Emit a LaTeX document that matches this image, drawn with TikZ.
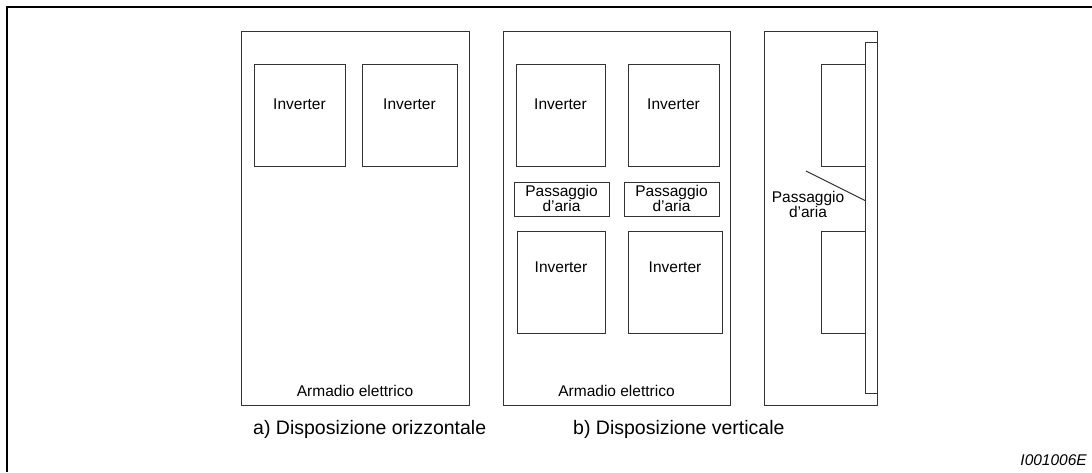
\documentclass[tikz,border=0pt]{standalone}
\usepackage{fontspec}
\setmainfont{Liberation Sans}
\newcommand{\squote}{{\char39}}
\begin{document}
\begin{tikzpicture}[x=1pt,y=-1pt,
  frameline/.style={line width=2.2pt,black},
  part/.style={line width=0.9pt,black!80},
  lbl/.style={inner sep=0pt,font=\fontsize{15.5}{15.5}\selectfont},
  twoline/.style={lbl,align=center},
  caption/.style={inner sep=0pt,font=\fontsize{19.5}{20}\selectfont}]
\useasboundingbox (0,0) rectangle (1092,472);
% outer frame (top and left edges)
\draw[frameline] (7,472) -- (7,7) -- (1092,7);

% ---- a) horizontal arrangement
\draw[part] (241,31) rectangle (469,405);
\draw[part] (254,64) rectangle (345,166);
\draw[part] (362,64) rectangle (457,166);
\node[lbl,anchor=base] (a1) at (299.5,109.5) {Inverter};
\node[lbl,anchor=base] (a2) at (409.5,109.5) {Inverter};
\node[lbl,anchor=base] (acab) at (355,396) {Armadio elettrico};
\node[caption,anchor=base west] (capa) at (253,434) {a) Disposizione orizzontale};

% ---- b) vertical arrangement, front view
\draw[part] (503,31) rectangle (730,405);
\draw[part] (516,64) rectangle (605,166);
\draw[part] (628,64) rectangle (719,166);
\draw[part] (514,182) rectangle (609,216);
\draw[part] (624,182) rectangle (719,216);
\draw[part] (517,231) rectangle (605,333);
\draw[part] (628,231) rectangle (722,333);
\node[lbl,anchor=base] (b1) at (560.5,109.5) {Inverter};
\node[lbl,anchor=base] (b2) at (673.5,109.5) {Inverter};
\node[twoline] (bp1) at (561.5,198.5) {Passaggio\\d\squote aria};
\node[twoline] (bp2) at (671.5,198.5) {Passaggio\\d\squote aria};
\node[lbl,anchor=base] (b3) at (561,272.5) {Inverter};
\node[lbl,anchor=base] (b4) at (675,272.5) {Inverter};
\node[lbl,anchor=base] (bcab) at (616.5,396) {Armadio elettrico};
\node[caption,anchor=base west] (capb) at (573,434) {b) Disposizione verticale};

% ---- b) vertical arrangement, side view
\draw[part] (764,31) rectangle (877,405);
\draw[part] (865,42) rectangle (877,393);
\draw[part] (865,64) -- (821,64) -- (821,166) -- (865,166);
\draw[part] (865,231) -- (821,231) -- (821,333) -- (865,333);
\node[twoline] (cp) at (808,204.5) {Passaggio\\d\squote aria};
\coordinate (lead0) at (806,171);
\coordinate (lead1) at (866,201);
\draw[part] (lead0) -- (lead1);

% drawing number
\node[lbl,anchor=base east,font=\fontsize{15.5}{15.5}\selectfont\itshape] (num) at (1087,465.5) {I001006E};
\end{tikzpicture}
\end{document}
